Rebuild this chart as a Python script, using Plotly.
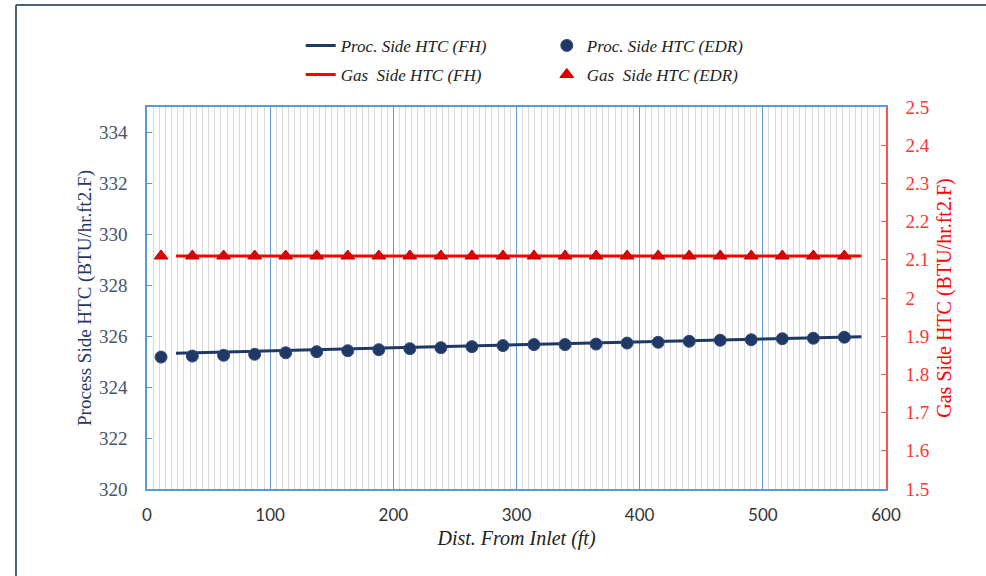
import plotly.graph_objects as go

# ---- data ----
dist_edr = [11.4, 36.8, 62.2, 87.4, 112.6, 137.8, 163.0, 188.2, 213.4, 238.6, 263.8, 289.0,
            314.2, 339.4, 364.6, 389.8, 415.0, 440.2, 465.4, 490.6, 515.8, 541.0, 566.2]
proc_edr = [325.18, 325.22, 325.25, 325.29, 325.35, 325.39, 325.43, 325.47, 325.51, 325.55,
            325.59, 325.63, 325.67, 325.67, 325.69, 325.73, 325.76, 325.80, 325.84, 325.86,
            325.90, 325.92, 325.96]
gas_edr = [2.11, 2.11, 2.11, 2.11, 2.11, 2.11, 2.11, 2.11, 2.11, 2.11, 2.11, 2.11,
           2.11, 2.11, 2.11, 2.11, 2.11, 2.11, 2.11, 2.11, 2.11, 2.11, 2.11]
dist_fh = [23.5, 100, 200, 300, 400, 500, 580]
proc_fh = [325.33, 325.43, 325.55, 325.66, 325.77, 325.88, 325.98]
gas_fh = [2.11, 2.11, 2.11, 2.11, 2.11, 2.11, 2.11]

left_ticks = [320, 322, 324, 326, 328, 330, 332, 334]
right_ticks = [1.5, 1.6, 1.7, 1.8, 1.9, 2.0, 2.1, 2.2, 2.3, 2.4, 2.5]
right_tick_text = ["1.5", "1.6", "1.7", "1.8", "1.9", "2", "2.1", "2.2", "2.3", "2.4", "2.5"]
x_ticks = [0, 100, 200, 300, 400, 500, 600]

NAVY = "#1f3864"
RED = "#ff0000"
BLUE = "#5b9bd5"
SERIF = "Liberation Serif"

fig = go.Figure()
fig.add_trace(go.Scatter(x=dist_fh, y=proc_fh, mode="lines", name="Proc. Side HTC (FH)",
                         line=dict(color=NAVY, width=3), legend="legend", showlegend=True))
fig.add_trace(go.Scatter(x=dist_edr, y=proc_edr, mode="markers", name="Proc. Side HTC (EDR)",
                         marker=dict(symbol="circle", size=12, color=NAVY,
                                     line=dict(color="#2f4a80", width=1)), legend="legend2",
                         showlegend=True))
fig.add_trace(go.Scatter(x=dist_fh, y=gas_fh, mode="lines", name="Gas\u00a0 Side HTC (FH)",
                         line=dict(color=RED, width=3), yaxis="y2", legend="legend3",
                         showlegend=True))
fig.add_trace(go.Scatter(x=dist_edr, y=gas_edr, mode="markers", name="Gas\u00a0 Side HTC (EDR)",
                         marker=dict(symbol="triangle-up", size=12, color="#e00000",
                                     line=dict(color="#c00000", width=1)), yaxis="y2",
                         legend="legend4", showlegend=True))

legfont = dict(family=SERIF, size=17, color="#222222", style="italic")
def leg(x, y):
    return dict(x=x, y=y, xanchor="left", yanchor="middle", xref="paper", yref="paper",
                bgcolor="rgba(0,0,0,0)", font=legfont, itemwidth=30, visible=True)

fig.update_layout(
    width=986, height=576,
    showlegend=True,
    margin=dict(l=147, r=100, t=107, b=87, autoexpand=False),
    paper_bgcolor="white", plot_bgcolor="white",
    legend=leg(0.208, 1.160),
    legend2=leg(0.541, 1.160),
    legend3=leg(0.208, 1.084),
    legend4=leg(0.541, 1.084),
    xaxis=dict(
        range=[0, 600], tickvals=x_ticks, showgrid=True, gridcolor=BLUE, gridwidth=1,
        minor=dict(dtick=5, showgrid=True, gridcolor="#d9d9d9", gridwidth=1),
        showline=True, linecolor=BLUE, linewidth=1.5, mirror=True, ticks="",
        zeroline=False, ticklabelstandoff=10,
        tickfont=dict(family="Lato", size=17, color="#333333"),
        title=dict(text="Dist. From Inlet (ft)", standoff=7,
                   font=dict(family=SERIF, size=20, color="#222222", style="italic")),
    ),
    yaxis=dict(
        range=[320, 335], tickvals=left_ticks, showgrid=False, zeroline=False,
        showline=True, linecolor=BLUE, linewidth=1.5, ticks="inside", ticklen=5,
        tickcolor=BLUE, ticklabelstandoff=14,
        tickfont=dict(family=SERIF, size=19, color="#44546a"),
        title=dict(text="Process Side HTC (BTU/hr.ft2.F)", standoff=2,
                   font=dict(family=SERIF, size=19, color=NAVY)),
    ),
    yaxis2=dict(
        range=[1.5, 2.5], tickvals=right_ticks, ticktext=right_tick_text, overlaying="y",
        side="right", showgrid=False, zeroline=False, showline=True, linecolor="#ff5050",
        linewidth=1.5, ticks="inside", ticklen=5, tickcolor="#ff5050",
        ticklabelstandoff=14,
        tickfont=dict(family=SERIF, size=19, color="#ff3333"),
        title=dict(text="Gas Side HTC (BTU/hr.ft2.F)", standoff=8,
                   font=dict(family=SERIF, size=20, color=RED)),
    ),
    shapes=[
        dict(type="line", xref="paper", yref="paper", x0=-0.1773, x1=1.2, y0=1.267, y1=1.267,
             line=dict(color="#4f5f78", width=2)),
        dict(type="line", xref="paper", yref="paper", x0=-0.1773, x1=-0.1773, y0=1.267,
             y1=-0.3, line=dict(color="#4f5f78", width=2)),
    ],
)

fig.write_html("out.html", config={"displayModeBar": False},
               post_script="document.body.style.margin='0';")
